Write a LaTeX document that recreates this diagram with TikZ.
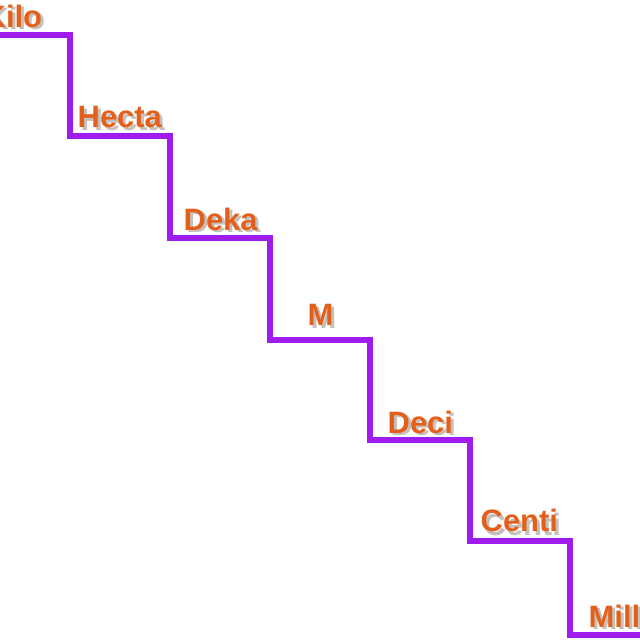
\documentclass[tikz,border=0pt]{standalone}
\usepackage{fontspec}
\setmainfont{Liberation Sans}
\definecolor{stairpurple}{RGB}{160,28,238}
\definecolor{unitorange}{RGB}{228,96,26}
\definecolor{unitshadow}{RGB}{150,140,130}
\tikzset{
    unit/.style={anchor=base west, inner sep=0pt, font=\bfseries\fontsize{8.8}{10}\selectfont, text=unitorange},
    unitshade/.style={unit, text=unitshadow, opacity=0.55}
}
\newcommand{\unitlabel}[3]{%
    \node[unitshade] at ($(#2)+(0.03,-0.03)$) {#3};
    \node[unit] (#1) at (#2) {#3};
}
\usetikzlibrary{calc}
\begin{document}
\begin{tikzpicture}
        \useasboundingbox (0,0) rectangle (6.4,6.4);

        % the stairs
        \draw[stairpurple, line width=1.7pt]
            (0,6.05) -- (0.70,6.05) -- (0.70,5.04) -- (1.70,5.04) -- (1.70,4.02)
            -- (2.70,4.02) -- (2.70,3.00) -- (3.70,3.00) -- (3.70,2.00)
            -- (4.70,2.00) -- (4.70,0.99) -- (5.70,0.99) -- (5.70,0.05) -- (6.4,0.05);

        % one prefix on each step
        \unitlabel{kilo}{-0.17,6.13}{Kilo}
        \unitlabel{hecta}{0.77,5.13}{Hecta}
        \unitlabel{deka}{1.83,4.10}{Deka}
        \unitlabel{m}{3.07,3.15}{M}
        \unitlabel{deci}{3.87,2.07}{Deci}
        \unitlabel{centi}{4.80,1.08}{Centi}
        \unitlabel{milli}{5.88,0.13}{Milli}

\end{tikzpicture}
\end{document}
